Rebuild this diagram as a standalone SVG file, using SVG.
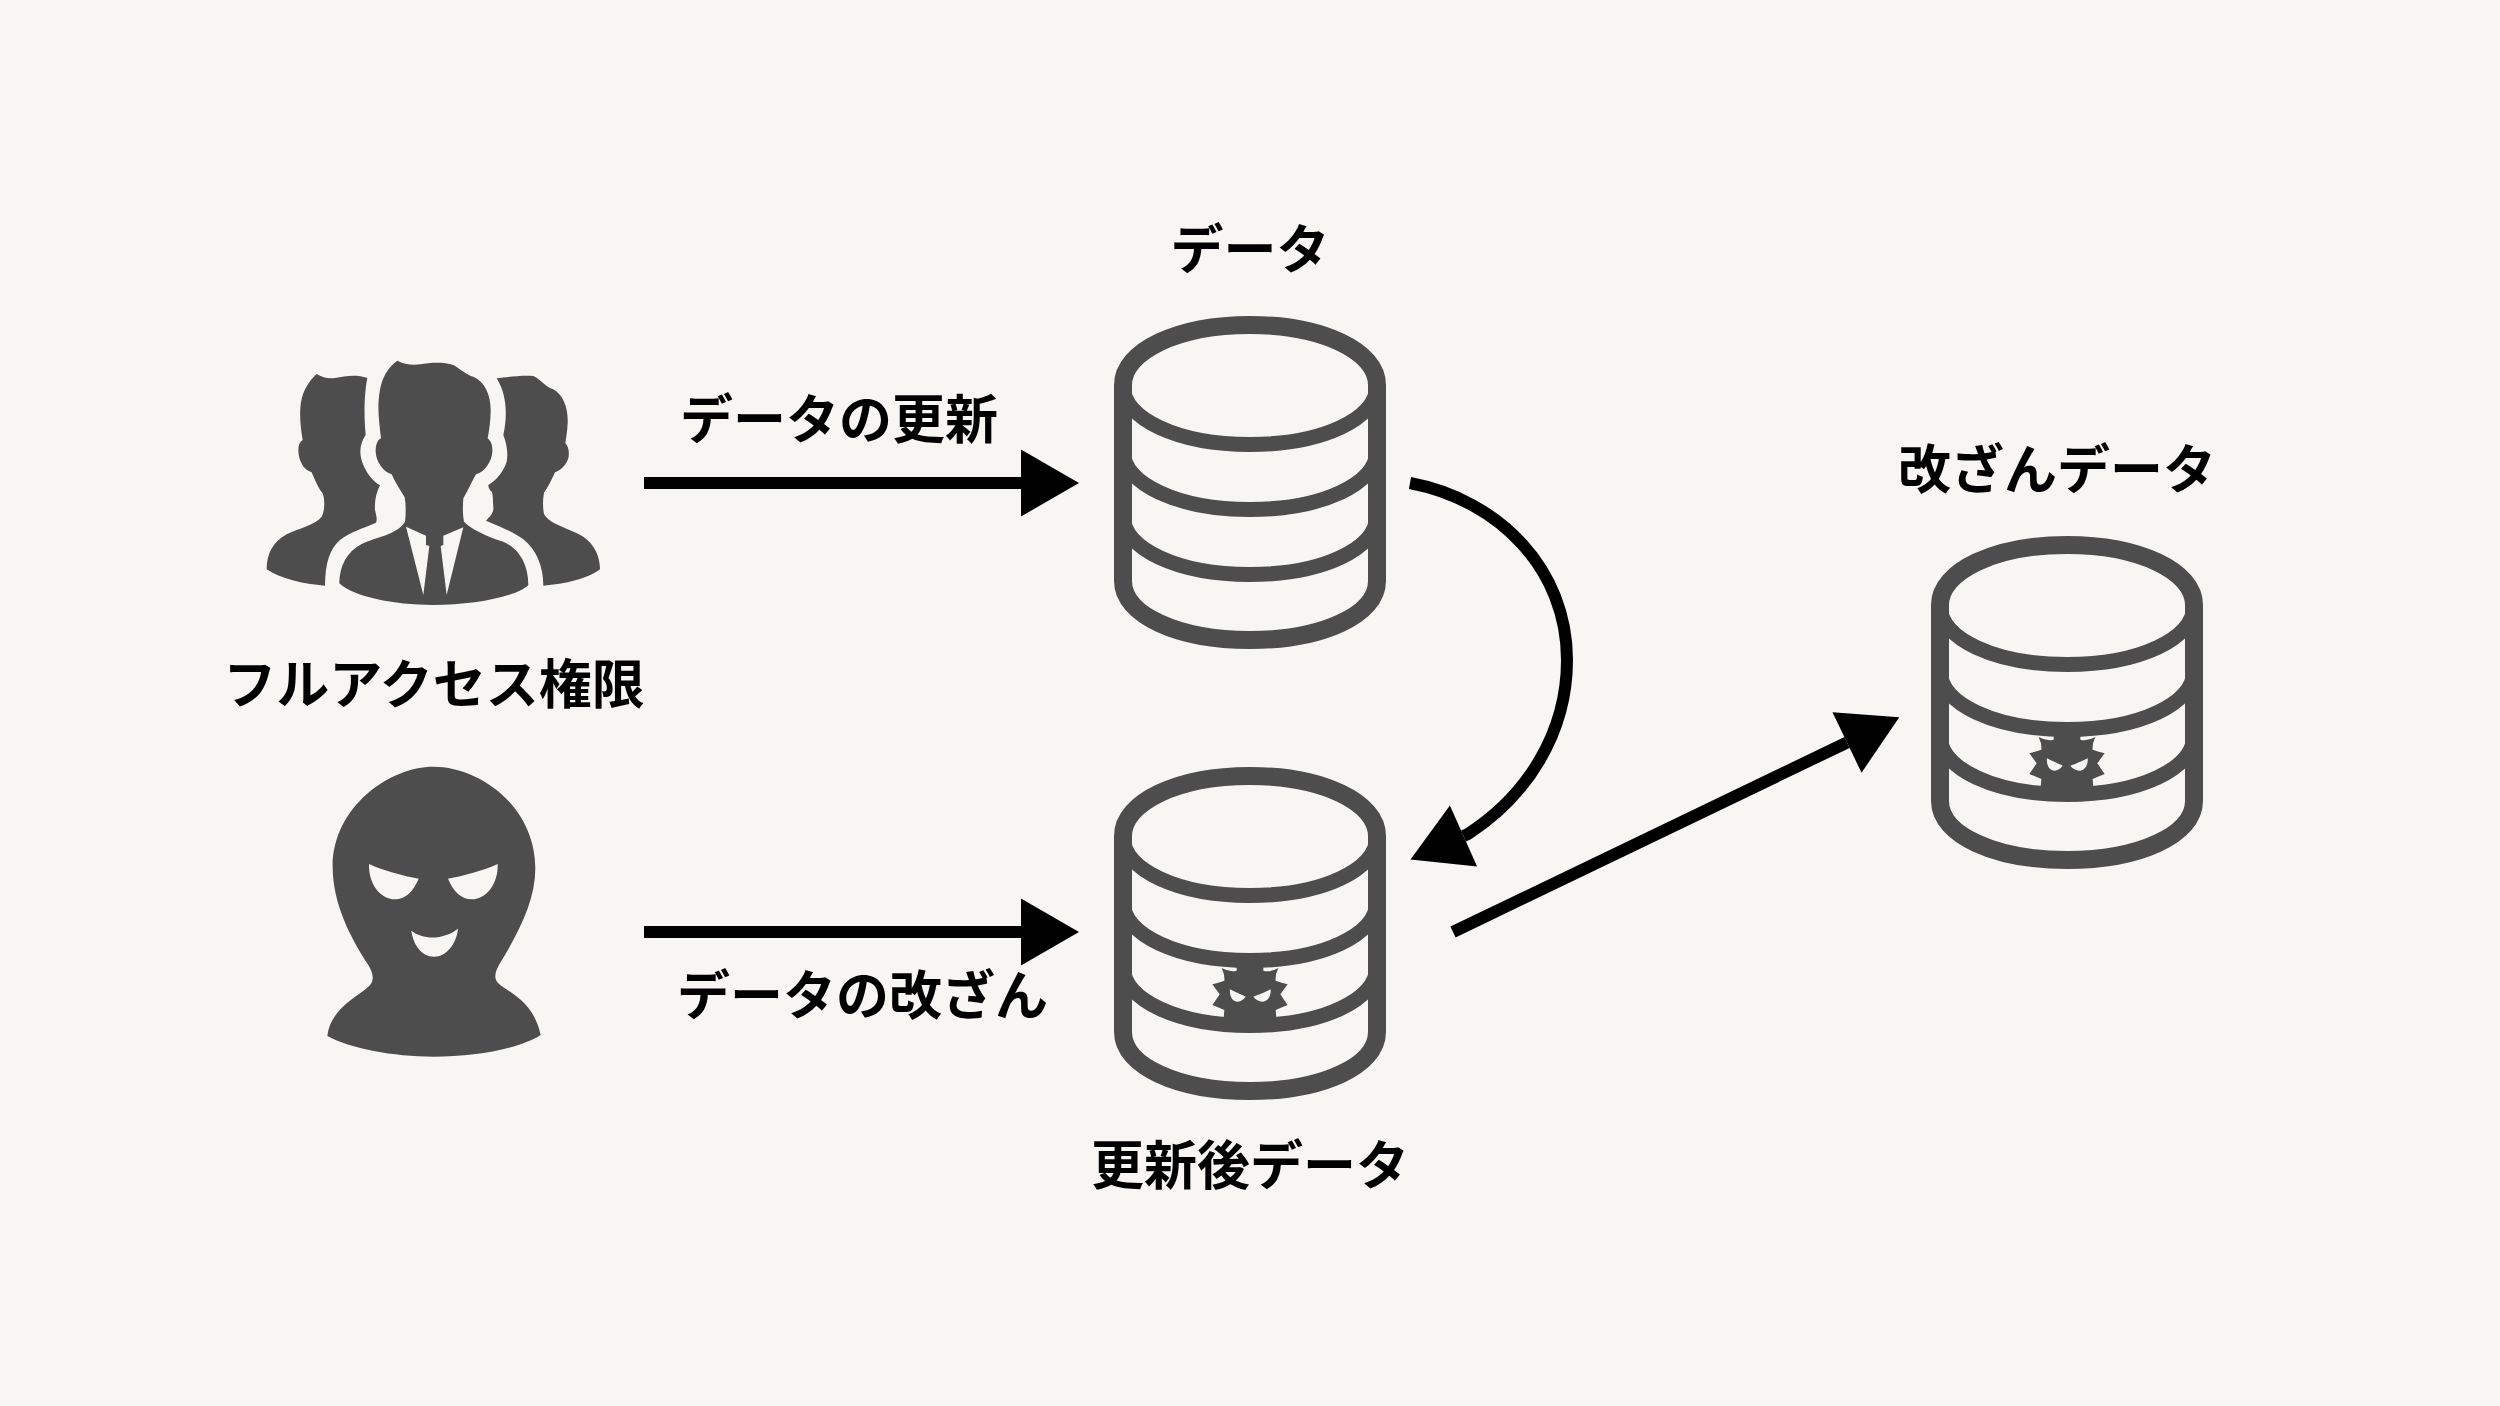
<svg xmlns="http://www.w3.org/2000/svg" width="2500" height="1406" viewBox="0 0 2500 1406">
<style>
.icon{fill:#4d4d4d}
.cut{fill:#f7f6f2}
.db{fill:none;stroke:#4d4d4d;stroke-width:18}
.band{fill:none;stroke:#4d4d4d;stroke-width:15}
.label{font-family:"Noto Sans CJK JP","Noto Sans",sans-serif;font-size:53px;font-weight:700;fill:#000}
.mid{text-anchor:middle}
.conn{fill:none;stroke:#000;stroke-width:12}
</style>
<defs>
<marker id="head" markerUnits="userSpaceOnUse" markerWidth="60" markerHeight="70" refX="0" refY="34" orient="auto" overflow="visible"><path d="M0 0.5L58 34L0 67.5Z" fill="#000"/></marker>
<g id="cyl">
<path class="band" d="M1123 836C1123 870 1178 895.5 1250 895.5C1322 895.5 1377 870 1377 836"/>
<path class="band" d="M1123 901C1123 935 1178 960.5 1250 960.5C1322 960.5 1377 935 1377 901"/>
<path class="band" d="M1123 966C1123 1000 1178 1025.5 1250 1025.5C1322 1025.5 1377 1000 1377 966"/>
<path class="db" d="M1123 1032V836C1123 802 1178 776 1250 776C1322 776 1377 802 1377 836V1032C1377 1066 1322 1091 1250 1091C1178 1091 1123 1066 1123 1032Z"/>
</g>
<g id="virus" transform="translate(1180 950) scale(.33333)">
<path class="icon" d="M170 30L170 62Q150 68 125 54Q135 75 133 92Q115 98 97 103Q108 118 119 133Q108 150 97 165Q115 172 133 180L131 205L132 240L180 240L183 250L186 240L232 240L236 250L240 240L288 240L289 205L287 180Q305 172 323 165Q312 150 301 133Q312 118 323 103Q305 98 287 92Q285 75 295 54Q270 68 250 62L250 30Z"/>
<path class="cut" d="M150 118C165 126 185 134 197 140C190 150 180 155 170 155C155 153 148 135 150 118Z"/>
<path class="cut" d="M272 118C257 126 237 134 220 140C227 150 240 155 250 155C265 153 274 135 272 118Z"/>
</g>
</defs>
<rect width="2500" height="1406" fill="#f7f6f2"/>
<g id="connectors">
<path class="conn" d="M644 483H1021" marker-end="url(#head)"/>
<path class="conn" d="M644 932H1021" marker-end="url(#head)"/>
<path class="conn" d="M1410 483C1500 500 1567 570 1567 660C1567 733 1527 796 1468 834L1463.5 836" marker-end="url(#head)"/>
<path class="conn" d="M1453 932L1847 742.5" marker-end="url(#head)"/>
</g>
<g id="node-full-access">
<g transform="translate(240 340) scale(.33333)">
<path class="icon" d="M230 102C245 112 265 116 285 114C315 108 350 102 382 114C375 150 370 210 377 285C360 310 355 340 370 375C380 400 400 425 420 436C410 455 403 480 405 510C410 530 412 540 408 548C370 565 330 575 300 600C270 625 255 670 255 737C190 733 120 715 80 688C80 640 100 605 140 583C175 565 225 555 245 530C255 510 255 480 248 460C235 445 225 420 215 397C190 390 175 360 175 330C175 315 180 305 188 300C180 250 175 200 190 160C200 135 215 115 230 102Z"/>
<path class="icon" d="M472 62C490 72 515 76 540 73C570 68 610 65 640 75C665 90 680 105 700 110C735 125 752 165 752 210C752 240 748 270 743 295C755 305 758 320 757 335C755 365 735 395 708 403C695 425 685 450 670 475C668 500 668 525 672 545C690 565 740 590 790 605C835 625 865 670 865 735C830 770 700 795 580 795C460 795 340 770 298 730C298 680 320 635 365 612C410 590 470 585 495 545C498 520 498 495 494 472C480 450 465 425 455 403C430 395 408 365 407 335C407 315 412 300 423 295C418 250 410 200 420 150C425 115 445 80 472 62Z"/>
<path class="cut" d="M498 560L558 587L558 615L568 618L550 765Z"/>
<path class="cut" d="M670 562L610 587L610 615L602 618L620 765Z"/>
<path class="icon" d="M770 115C800 112 840 105 880 108C905 120 915 140 940 148C970 165 985 205 983 250C982 275 978 295 976 310C987 320 988 340 985 355C978 375 965 390 945 397C935 420 925 440 912 458C908 480 908 500 912 522C930 555 990 565 1030 590C1065 615 1080 650 1080 688C1045 715 975 733 910 737C910 680 890 630 850 598C815 572 775 558 738 542C750 530 762 520 760 500C758 480 760 465 755 455C748 450 745 442 745 435C770 420 790 395 800 365C805 340 800 310 790 285C800 240 805 170 770 115Z"/>
</g>
<text class="label mid" x="434" y="704">フルアクセス権限</text>
</g>
<g id="node-attacker" transform="translate(300 740) scale(.33333)">
<path class="icon" d="M400 80C540 80 706 200 706 385C706 480 660 570 600 670C585 695 580 715 595 730C620 755 700 780 722 885C660 925 530 950 400 950C280 950 150 925 82 888C90 810 170 770 200 745C225 725 222 705 205 675C150 590 98 490 98 380C98 200 270 80 400 80Z"/>
<path class="cut" d="M207 372C250 392 310 408 356 416C340 455 315 478 285 478C240 478 205 430 207 372Z"/>
<path class="cut" d="M593 372C550 392 490 408 444 416C460 455 485 478 515 478C560 478 595 430 593 372Z"/>
<path class="cut" d="M334 572C370 600 430 600 474 566C470 610 440 650 402 650C365 650 340 615 334 572Z"/>
</g>
<g id="node-data">
<use href="#cyl" transform="translate(0 -451)"/>
<text class="label mid" x="1250" y="269">データ</text>
</g>
<g id="node-updated">
<use href="#cyl"/>
<use href="#virus"/>
<text class="label mid" x="1250" y="1185">更新後データ</text>
</g>
<g id="node-tampered">
<use href="#cyl" transform="translate(817 -231)"/>
<use href="#virus" transform="translate(817 -231)"/>
<text class="label mid" x="2057" y="489">改ざんデータ</text>
</g>
<g id="label-update"><text class="label" x="680" y="439">データの更新</text></g>
<g id="label-tamper"><text class="label" x="677" y="1015">データの改ざん</text></g>
</svg>
